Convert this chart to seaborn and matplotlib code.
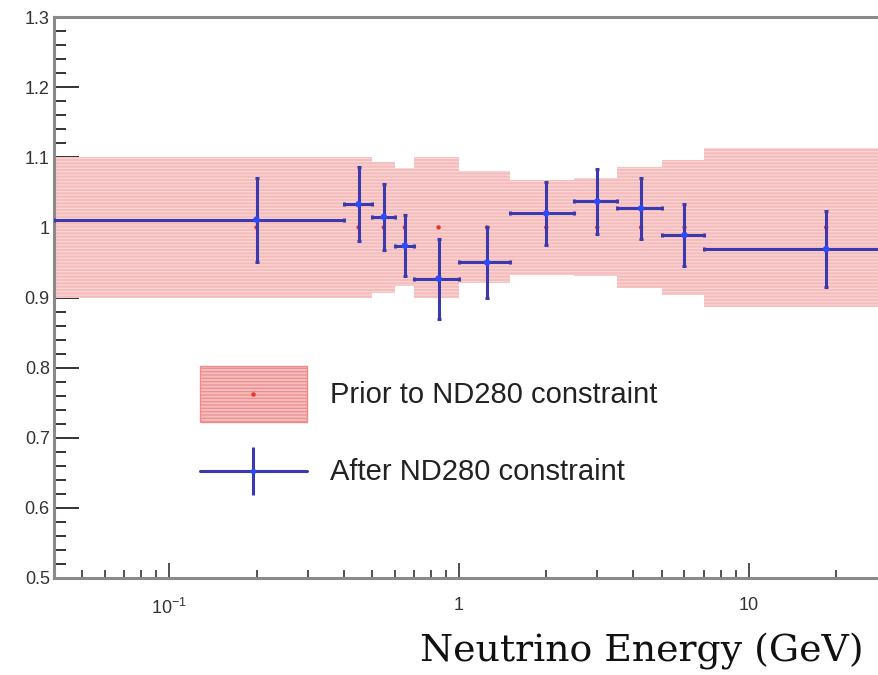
import numpy as np
import matplotlib
matplotlib.use("Agg")
import matplotlib.pyplot as plt
import seaborn as sns
from matplotlib.lines import Line2D
from matplotlib.patches import Patch
from matplotlib.legend_handler import HandlerTuple, HandlerLine2D
from matplotlib.ticker import MultipleLocator, FuncFormatter, LogLocator, NullFormatter

# ---------------- data ----------------
bin_edges = [0.0, 0.4, 0.5, 0.6, 0.7, 1.0, 1.5, 2.5, 3.5, 5.0, 7.0, 30.0]
bin_centers = [0.2, 0.45, 0.55, 0.65, 0.85, 1.25, 2.0, 3.0, 4.25, 6.0, 18.5]
prior_value = [1.0, 1.0, 1.0, 1.0, 1.0, 1.0, 1.0, 1.0, 1.0, 1.0, 1.0]
prior_error = [0.100, 0.100, 0.093, 0.084, 0.100, 0.080, 0.068, 0.070, 0.086, 0.096, 0.113]
after_value = [1.011, 1.033, 1.015, 0.974, 0.927, 0.950, 1.020, 1.037, 1.027, 0.989, 0.969]
after_error = [0.060, 0.053, 0.047, 0.043, 0.057, 0.050, 0.045, 0.046, 0.044, 0.044, 0.054]
y_ticks = [0.5, 0.6, 0.7, 0.8, 0.9, 1.0, 1.1, 1.2, 1.3]
x_ticks = [0.1, 1, 10]
x_tick_labels = [r"$10^{-1}$", "1", "10"]
legend_labels = ["Prior to ND280 constraint", "After ND280 constraint"]
x_label = "Neutrino Energy (GeV)"

# ---------------- style ----------------
sns.set_style("ticks")
plt.rcParams["font.family"] = ["Liberation Sans", "DejaVu Sans"]
plt.rcParams["mathtext.fontset"] = "custom"
plt.rcParams["mathtext.rm"] = "Liberation Sans"
plt.rcParams["mathtext.it"] = "Liberation Sans:italic"
plt.rcParams["hatch.linewidth"] = 0.8

FILL = "#f5bcbc"
HATCH = "#fad8d8"
BLUE = "#3a3aae"
BLUE_PT = "#2a4bff"
RED_PT = "#e8342c"
AXC = "#8a8a8a"
TXT = "#333333"

XMIN, XMAX = 0.04, 30.0

fig = plt.figure(figsize=(8.79, 6.75), dpi=100)
ax = fig.add_axes([54 / 879, 1 - 578 / 675, (887 - 54) / 879, (578 - 17) / 675])
ax.set_xscale("log")
ax.set_xlim(XMIN, XMAX)
ax.set_ylim(0.5, 1.3)

edges = np.array(bin_edges)
lefts = np.maximum(edges[:-1], XMIN)
rights = edges[1:]
centers = np.array(bin_centers)
pv = np.array(prior_value)
pe = np.array(prior_error)

# prior bands
ax.bar(lefts, 2 * pe, width=rights - lefts, bottom=pv - pe, align="edge",
       color=FILL, edgecolor=HATCH, linewidth=0, hatch="-----", zorder=1)

# prior central markers
sns.scatterplot(x=centers, y=pv, color=RED_PT, s=10, edgecolor="none",
                zorder=3, ax=ax, legend=False)

# after constraint crosses
ax.errorbar(centers, after_value, xerr=[centers - lefts, rights - centers],
            yerr=after_error, fmt="none", ecolor=BLUE, elinewidth=2.2,
            capsize=1.6, capthick=2.2, zorder=4)
sns.scatterplot(x=centers, y=after_value, color=BLUE_PT, s=22, edgecolor="none",
                zorder=5, ax=ax, legend=False)

# ---------------- axes ----------------
ax.set_yticks(y_ticks)
ax.yaxis.set_major_formatter(FuncFormatter(lambda v, p: f"{v:g}"))
ax.yaxis.set_minor_locator(MultipleLocator(0.02))
ax.set_xticks(x_ticks)
ax.set_xticklabels(x_tick_labels)
ax.xaxis.set_minor_locator(LogLocator(base=10, subs=np.arange(2, 10)))
ax.xaxis.set_minor_formatter(NullFormatter())

ax.tick_params(axis="y", which="major", direction="in", length=18, width=1.4,
               pad=3, labelsize=13, color="#333333", labelcolor=TXT, left=True, right=False)
ax.tick_params(axis="y", which="minor", direction="in", length=8.6, width=1.4,
               color="#333333", left=True, right=False)
ax.tick_params(axis="x", which="major", direction="in", length=11, width=1.2,
               pad=14, labelsize=13, color="#333333", labelcolor=TXT, top=False)
ax.tick_params(axis="x", which="minor", direction="in", length=5.5, width=1.2,
               color="#333333", top=False)

for s in ax.spines.values():
    s.set_color(AXC)
    s.set_linewidth(2.2)

ax.set_xlabel(x_label, fontsize=27.3, family=["DejaVu Serif"],
              ha="right", va="baseline", color="#111111")
ax.xaxis.set_label_coords((864 - 54) / 833, (578 - 662) / 561)


# ---------------- legend ----------------
class CenteredLineHandler(HandlerLine2D):
    """Line handler whose line sits at the vertical centre of the handle box."""

    def create_artists(self, legend, orig_handle, xdescent, ydescent,
                       width, height, fontsize, trans):
        arts = super().create_artists(legend, orig_handle, xdescent, ydescent,
                                      width, height, fontsize, trans)
        for a in arts:
            a.set_ydata(np.asarray(a.get_ydata(), dtype=float) - ydescent / 2)
        return arts


prior_handle = (Patch(facecolor=FILL, edgecolor="#ee8a8a", linewidth=1.0, hatch="-----"),
                Line2D([], [], ls="none", marker="o", ms=3.2, color=RED_PT, mec="none"))
after_handle = (Line2D([], [], color=BLUE, lw=2.2, marker="|", ms=34, mew=2.2),
                Line2D([], [], ls="none", marker="o", ms=4, color=BLUE_PT, mec="none"))
fs_px = 21 * 100 / 72
hh = (56 / fs_px - 0.245) / 0.65
leg = ax.legend(handles=[prior_handle, after_handle], labels=legend_labels,
                handler_map={tuple: HandlerTuple(ndivide=1, pad=0),
                             Line2D: CenteredLineHandler()},
                loc="upper left", bbox_to_anchor=(200 / 879, 1 - 366 / 675),
                bbox_transform=fig.transFigure, frameon=False, borderpad=0,
                borderaxespad=0, fontsize=21, handlelength=107 / fs_px,
                handleheight=hh, handletextpad=0.8, labelspacing=21 / fs_px)
for t in leg.get_texts():
    t.set_color("#222222")

fig.savefig("out.png", dpi=100)
